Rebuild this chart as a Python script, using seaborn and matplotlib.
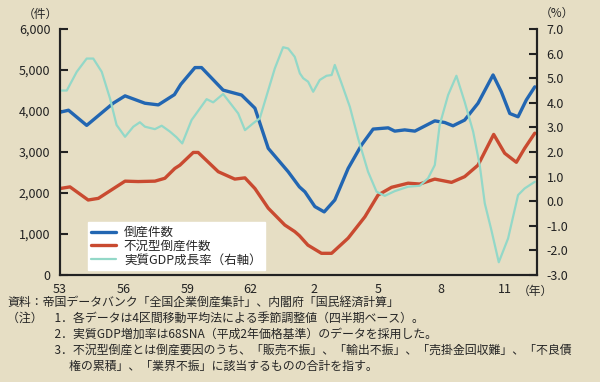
import matplotlib
matplotlib.use("Agg")
import matplotlib.pyplot as plt
import seaborn as sns

# bankruptcy counts (件), x in fractional years (S53 = 1978)
count_years = [1978.0, 1978.4, 1979.26, 1980.51, 1981.07, 1982.01, 1982.64, 1983.4, 1983.7,
               1984.37, 1984.68, 1985.7, 1986.57, 1987.2, 1987.83, 1988.77, 1989.3, 1989.56,
               1990.03, 1990.47, 1990.97, 1991.6, 1992.23, 1992.78, 1993.49, 1993.8, 1994.27,
               1994.75, 1995.69, 1996.16, 1996.55, 1997.1, 1997.73, 1998.44, 1998.83, 1999.23,
               1999.62, 2000.01, 2000.41]
count = [3970, 4020, 3650, 4190, 4370, 4190, 4150, 4400, 4650,
         5060, 5060, 4510, 4390, 4070, 3090, 2520, 2150, 2030,
         1670, 1540, 1830, 2600, 3170, 3560, 3590, 3510, 3540,
         3510, 3760, 3720, 3640, 3780, 4190, 4880, 4470, 3940,
         3860, 4270, 4590]

# recession-type bankruptcies (件)
fukyo_years = [1978.0, 1978.47, 1979.33, 1979.81, 1981.07, 1981.69, 1982.48, 1982.95, 1983.42,
               1983.66, 1984.29, 1984.52, 1985.47, 1986.25, 1986.73, 1987.2, 1987.83, 1988.61,
               1989.08, 1989.3, 1989.7, 1990.34, 1990.82, 1991.6, 1992.39, 1993.01, 1993.65,
               1994.43, 1994.98, 1995.69, 1996.48, 1997.1, 1997.73, 1998.47, 1998.99, 1999.54,
               1999.93, 2000.41]
fukyo = [2110, 2150, 1830, 1870, 2290, 2280, 2290, 2360, 2600,
         2680, 2990, 2990, 2520, 2340, 2370, 2110, 1630, 1220,
         1060, 960, 730, 530, 530, 900, 1420, 1950, 2140,
         2240, 2220, 2340, 2260, 2400, 2680, 3430, 2970, 2750,
         3090, 3460]

# real GDP growth (%), right axis
gdp_years = [1978.0, 1978.32, 1978.79, 1979.26, 1979.57, 1979.97, 1980.36, 1980.67, 1981.07,
             1981.46, 1981.77, 1982.01, 1982.48, 1982.8, 1983.19, 1983.5, 1983.77, 1984.21,
             1984.92, 1985.23, 1985.7, 1986.41, 1986.73, 1987.12, 1987.43, 1988.14, 1988.53,
             1988.77, 1989.08, 1989.32, 1989.48, 1989.71, 1989.95, 1990.26, 1990.58, 1990.82,
             1990.97, 1991.29, 1991.68, 1992.07, 1992.54, 1992.94, 1993.33, 1993.8, 1994.43,
             1994.98, 1995.37, 1995.69, 1995.92, 1996.32, 1996.71, 1997.1, 1997.5, 1997.81,
             1998.05, 1998.36, 1998.71, 1999.15, 1999.62, 1999.93, 2000.41]
gdp = [4.5, 4.5, 5.26, 5.8, 5.8, 5.26, 4.18, 3.1, 2.62,
       3.03, 3.21, 3.03, 2.93, 3.07, 2.83, 2.6, 2.35, 3.3,
       4.15, 4.02, 4.36, 3.57, 2.89, 3.17, 3.37, 5.4, 6.26,
       6.21, 5.87, 5.2, 5.0, 4.86, 4.45, 4.93, 5.1, 5.13,
       5.54, 4.79, 3.84, 2.56, 1.2, 0.39, 0.22, 0.41, 0.59,
       0.63, 0.93, 1.47, 3.1, 4.32, 5.1, 4.04, 2.83, 1.47,
       -0.09, -1.17, -2.48, -1.51, 0.25, 0.52, 0.79]

tick_years = [1978, 1981, 1984, 1987, 1990, 1993, 1996, 1999]
tick_labels = ["53", "56", "59", "62", "2", "5", "8", "11"]

notes = [
    "資料：帝国データバンク「全国企業倒産集計」、内閣府「国民経済計算」",
    "（注）　1．各データは4区間移動平均法による季節調整値（四半期ベース）。",
    "　　　　2．実質GDP増加率は68SNA（平成2年価格基準）のデータを採用した。",
    "　　　　3．不況型倒産とは倒産要因のうち、「販売不振」、「輸出不振」、「売掛金回収難」、「不良債",
    "　　　　　 権の累積」、「業界不振」に該当するものの合計を指す。",
]

bg = "#E6DEC4"
sns.set_style("ticks")
plt.rcParams["font.family"] = ["Noto Sans CJK JP", "DejaVu Sans"]

fig = plt.figure(figsize=(6, 3.82), dpi=100, facecolor=bg)
ax1 = fig.add_axes([0.1, 0.28, 0.7945, 0.644])
ax1.set_facecolor(bg)
ax2 = ax1.twinx()

sns.lineplot(x=count_years, y=count, ax=ax1, color="#2266B2", linewidth=2.4, label="倒産件数")
sns.lineplot(x=fukyo_years, y=fukyo, ax=ax1, color="#C94A30", linewidth=2.4, label="不況型倒産件数")
sns.lineplot(x=gdp_years, y=gdp, ax=ax2, color="#93D8C8", linewidth=1.6, label="実質GDP成長率（右軸）")

ax1.set_xlim(1978, 2000.5)
ax1.set_ylim(0, 6000)
ax2.set_ylim(-3, 7)
ax1.set_yticks(range(0, 6001, 1000))
ax1.set_yticklabels([f"{v:,}" for v in range(0, 6001, 1000)])
ax2.set_yticks(range(-3, 8))
ax2.set_yticklabels([f"{v:.1f}" for v in range(-3, 8)])
ax1.set_xticks(tick_years)
ax1.set_xticklabels(tick_labels)

for ax in (ax1, ax2):
    ax.spines["top"].set_visible(False)
    for s in ax.spines.values():
        s.set_color("#222222")
        s.set_linewidth(1.5)
    ax.tick_params(axis="y", direction="in", length=6, width=1.5, labelsize=9, pad=7, colors="#222222")
ax1.tick_params(axis="x", length=0, labelsize=9, pad=6, colors="#222222")
ax1.set_xlabel("")
ax1.set_ylabel("")
ax2.set_ylabel("")

h1, l1 = ax1.get_legend_handles_labels()
h2, l2 = ax2.get_legend_handles_labels()
ax1.get_legend().remove()
leg = ax2.legend(h1 + h2, l1 + l2, loc="lower left", bbox_to_anchor=(0.058, 0.02),
                 frameon=True, fancybox=False, framealpha=1, edgecolor="white",
                 facecolor="white", fontsize=9, handlelength=2.0, handletextpad=0.6,
                 labelspacing=0.05, borderpad=0.3, borderaxespad=0)

fig.text(0.068, 0.963, "（件）", ha="center", va="center", fontsize=8.5)
fig.text(0.928, 0.966, "（%）", ha="center", va="center", fontsize=8.5)
fig.text(0.893, 0.238, "（年）", ha="center", va="center", fontsize=8.5)

y0 = 0.208
for i, line in enumerate(notes):
    fig.text(0.012, y0 - i * 0.042, line, ha="left", va="center", fontsize=8.6)

fig.savefig("out.png", dpi=100, facecolor=bg)
